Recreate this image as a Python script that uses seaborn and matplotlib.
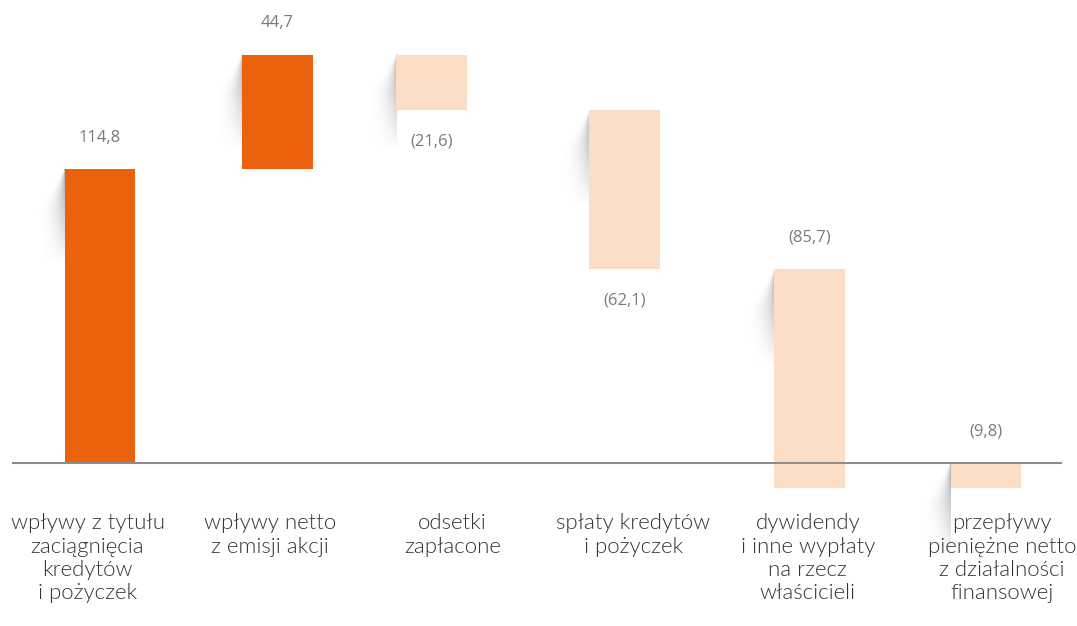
"""
Waterfall chart - przepływy pieniężne z działalności finansowej
"""

import numpy as np
import pandas as pd
import matplotlib
matplotlib.use('Agg')
import matplotlib.pyplot as plt
import seaborn as sns

# Data
CATEGORIES = [
    'wpływy z tytułu\nzaciągnięcia\nkredytów\ni pożyczek',
    'wpływy netto\nz emisji akcji',
    'odsetki\nzapłacone',
    'spłaty kredytów\ni pożyczek',
    'dywidendy\ni inne wypłaty\nna rzecz\nwłaścicieli',
    'przepływy\npieniężne netto\nz działalności\nfinansowej',
]
VALUES = [114.8, 44.7, -21.6, -62.1, -85.7, -9.8]
IS_TOTAL = [False, False, False, False, False, True]

# Styling / layout
ORANGE = '#EB610C'
PEACH = '#FDDDC4'
LABEL_SIDE = [1, 1, -1, -1, 1, 1]          # value label above (+1) / below (-1)
BAR_SHIFT = [0, 0, -0.13, -0.04, 0.005, 0]  # small horizontal nudges (category units)
TEXT_SHIFT = [-0.07, -0.04, -0.01, 0.01, -0.005, 0.09]


def fmt(v):
    s = f'{abs(v):.1f}'.replace('.', ',')
    return s if v >= 0 else f'({s})'


def add_shadow(ax, x_left, y_top, w=0.17, h=37.0):
    """Soft page-curl style shadow left of the bar's top corner."""
    ny, nx = 120, 40
    dy = np.linspace(0, 1, ny)[:, None]
    dx = np.linspace(1, 0, nx)[None, :]
    reach = np.clip(dy * 2.4, 1e-6, 1)
    inside = dx < reach
    a = np.where(inside, (1 - dx / reach) ** 2.5, 0) * (1 - dy) ** 0.9 * 0.6
    rgba = np.zeros((ny, nx, 4))
    rgba[..., :3] = 0.45
    rgba[..., 3] = a
    ax.imshow(rgba, extent=[x_left - w, x_left, y_top - h, y_top],
              origin='upper', aspect='auto', zorder=1,
              interpolation='bilinear')


# Waterfall geometry
bottoms, heights = [], []
running = 0.0
for v, total in zip(VALUES, IS_TOTAL):
    if total:
        bottoms.append(0.0)
        heights.append(v)
    else:
        bottoms.append(running)
        heights.append(v)
        running += v

df = pd.DataFrame({'cat': CATEGORIES, 'height': heights})
colors = [ORANGE if v > 0 else PEACH for v in VALUES]

sns.set_theme(style='white')
plt.rcParams['font.family'] = ['Lato', 'DejaVu Sans']

fig = plt.figure(figsize=(10.77, 6.26), dpi=100)
ax = fig.add_axes([12 / 1077, 0, 1050 / 1077, 1])

sns.barplot(data=df, x='cat', y='height', hue='cat', palette=colors,
            width=0.40, legend=False, saturation=1, ax=ax, zorder=2)

for i, p in enumerate(ax.patches):
    p.set_x(p.get_x() + BAR_SHIFT[i])
    p.set_y(bottoms[i])
    p.set_height(heights[i])
    p.set_linewidth(0)
    top = max(bottoms[i], bottoms[i] + heights[i])
    bot = min(bottoms[i], bottoms[i] + heights[i])
    add_shadow(ax, p.get_x(), top)

    anchor = top if LABEL_SIDE[i] > 0 else bot
    ax.text(p.get_x() + p.get_width() / 2, anchor + 12.3 * LABEL_SIDE[i],
            fmt(VALUES[i]), ha='center', va='center', fontsize=12,
            color='#7a7a7a', zorder=3, family=['Open Sans', 'DejaVu Sans'])

    ax.text(i + TEXT_SHIFT[i], 0.180, CATEGORIES[i],
            transform=ax.get_xaxis_transform(), ha='center', va='top',
            fontsize=16, color='#333333', linespacing=1.2,
            fontweight=300)

ax.axhline(0, color='#8c8c8c', lw=1.5, zorder=3)

ax.set_xlim(-0.4966, 5.429)
ax.set_ylim(-63.7, 180.9)
ax.set_xlabel('')
ax.set_ylabel('')
ax.set_xticks([])
ax.set_yticks([])
sns.despine(ax=ax, left=True, bottom=True)

fig.savefig('out.png', dpi=100)
